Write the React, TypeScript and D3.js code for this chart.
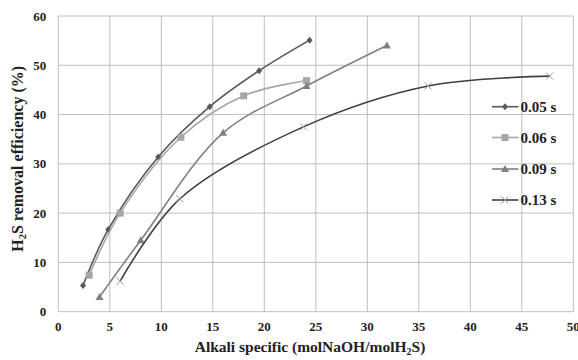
import React from "react";
import * as d3 from "d3";

const xTicks = [0, 5, 10, 15, 20, 25, 30, 35, 40, 45, 50];
const yTicks = [0, 10, 20, 30, 40, 50, 60];

const seriesNames = ["0.05 s", "0.06 s", "0.09 s", "0.13 s"];
const s005x = [2.4, 4.85, 9.7, 14.7, 19.5, 24.4];
const s005y = [5.3, 16.7, 31.4, 41.6, 48.9, 55.1];
const s006x = [3.0, 6.0, 11.9, 18.0, 24.1];
const s006y = [7.4, 20.0, 35.4, 43.8, 46.9];
const s009x = [4.0, 8.0, 16.0, 24.1, 31.9];
const s009y = [3.0, 14.5, 36.3, 45.8, 54.0];
const s013x = [6.0, 11.8, 23.8, 35.9, 47.7];
const s013y = [6.2, 22.9, 37.5, 45.8, 47.8];

const W = 578, H = 360;
const M = { left: 58.3, right: 4.7, top: 16, bottom: 48.3 };

const colors = ["#595959", "#a6a6a6", "#808080", "#404040"];
const markers = ["diamond", "square", "triangle", "x"];
const FONT = { fontFamily: "Liberation Serif", fontWeight: "bold" as const };

export default function App() {
  const x = d3.scaleLinear().domain([0, 50]).range([M.left, W - M.right]);
  const y = d3.scaleLinear().domain([0, 60]).range([H - M.bottom, M.top]);
  const xs = [s005x, s006x, s009x, s013x];
  const ys = [s005y, s006y, s009y, s013y];
  const line = d3
    .line<[number, number]>()
    .x((d) => x(d[0]))
    .y((d) => y(d[1]))
    .curve(d3.curveCatmullRom.alpha(0.5));

  const marker = (kind: string, cx: number, cy: number, color: string, key: string) => {
    if (kind === "diamond")
      return <path key={key} d={`M${cx},${cy - 3.5}L${cx + 3},${cy}L${cx},${cy + 3.5}L${cx - 3},${cy}Z`} fill={color} />;
    if (kind === "square")
      return <rect key={key} x={cx - 3.5} y={cy - 3.5} width={7} height={7} fill={color} />;
    if (kind === "triangle")
      return <path key={key} d={`M${cx},${cy - 4}L${cx + 4},${cy + 3}L${cx - 4},${cy + 3}Z`} fill={color} />;
    return (
      <path key={key} d={`M${cx - 3.5},${cy - 3.5}L${cx + 3.5},${cy + 3.5}M${cx - 3.5},${cy + 3.5}L${cx + 3.5},${cy - 3.5}`} stroke="#999" strokeWidth={1} />
    );
  };

  const legendY = [106.7, 137.5, 169, 200];

  return (
    <svg width={W} height={H} style={{ position: "absolute", left: 0, top: 0, background: "#fff" }}>
      <rect x={0} y={0} width={W} height={H} fill="#fff" />
      {xTicks.map((t) => (
        <line key={"gx" + t} x1={x(t)} x2={x(t)} y1={y(0)} y2={y(60)} stroke="#bfbfbf" strokeWidth={1} />
      ))}
      {yTicks.map((t) => (
        <line key={"gy" + t} x1={x(0)} x2={x(50)} y1={y(t)} y2={y(t)} stroke="#bfbfbf" strokeWidth={1} />
      ))}
      {xTicks.map((t) => (
        <text key={"tx" + t} x={x(t)} y={y(0) + 19} textAnchor="middle" fontSize={13} fill="#222" style={FONT}>
          {t}
        </text>
      ))}
      {yTicks.map((t) => (
        <text key={"ty" + t} x={x(0) - 12} y={y(t) + 4.5} textAnchor="end" fontSize={13} fill="#222" style={FONT}>
          {t}
        </text>
      ))}
      <text x={310} y={352} textAnchor="middle" fontSize={15.5} fill="#222" style={FONT}>
        Alkali specific (molNaOH/molH<tspan fontSize={10} dy={3}>2</tspan><tspan dy={-3}>S)</tspan>
      </text>
      <text transform={`translate(23,${(y(0) + y(60)) / 2 - 5}) rotate(-90)`} textAnchor="middle" fontSize={16} fill="#222" style={FONT}>
        H<tspan fontSize={10.5} dy={3}>2</tspan><tspan dy={-3}>S removal efficiency (%)</tspan>
      </text>
      {xs.map((xv, i) => {
        const pts = xv.map((v, j) => [v, ys[i][j]] as [number, number]);
        return (
          <g key={"s" + i}>
            <path d={line(pts) || ""} fill="none" stroke={colors[i]} strokeWidth={1.6} />
            {pts.map((p, j) => marker(markers[i], x(p[0]), y(p[1]), colors[i], `m${i}-${j}`))}
          </g>
        );
      })}
      {seriesNames.map((n, i) => (
        <g key={"l" + i}>
          <line x1={492} x2={518.5} y1={legendY[i]} y2={legendY[i]} stroke={colors[i]} strokeWidth={1.6} />
          {marker(markers[i], 505, legendY[i], colors[i], "lm" + i)}
          <text x={520.5} y={legendY[i] + 5} fontSize={15} fill="#222" style={FONT}>
            {n}
          </text>
        </g>
      ))}
    </svg>
  );
}
